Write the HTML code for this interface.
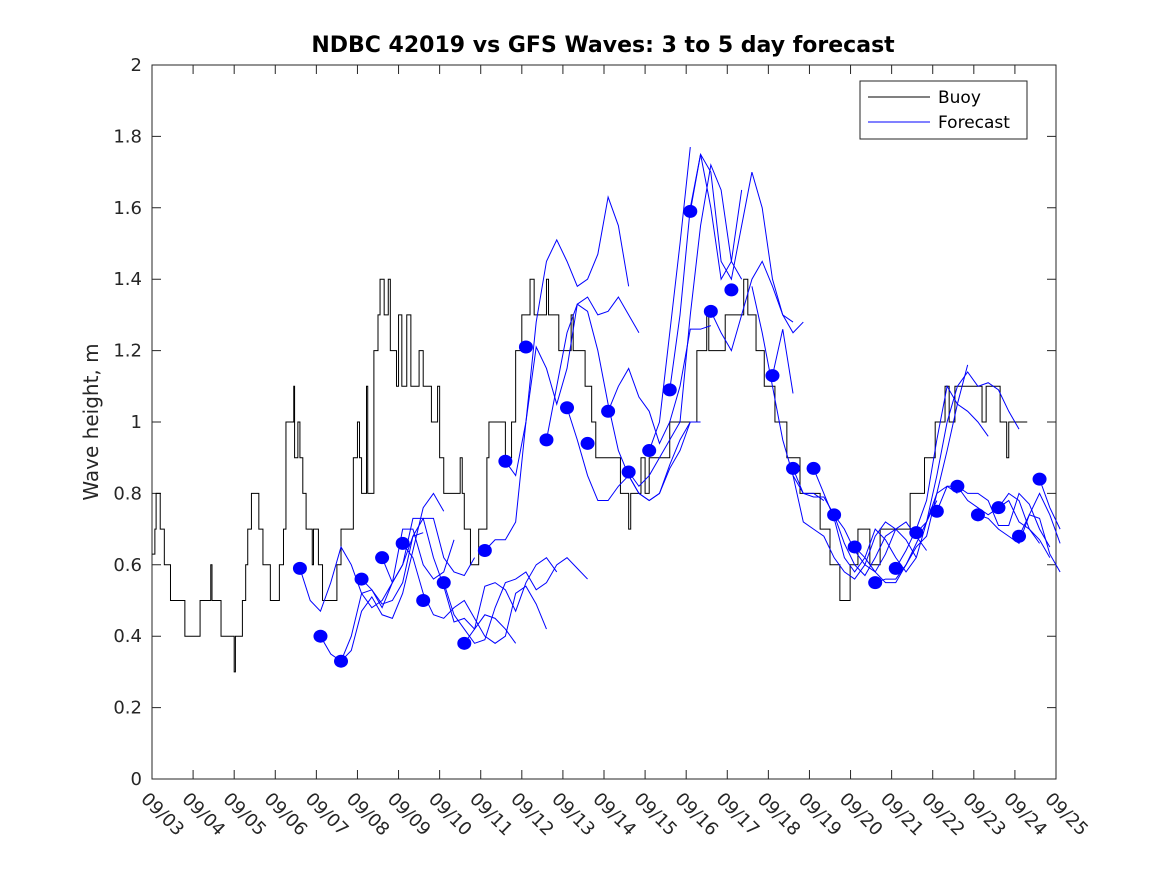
<!DOCTYPE html>
<html><head><meta charset="utf-8"><style>
body{margin:0;background:#fff;}
svg{display:block;font-family:"DejaVu Sans","Liberation Sans",sans-serif;}
</style></head><body>
<svg id="chart" width="1167" height="875" viewBox="0 0 1167 875">
<rect x="0" y="0" width="1167" height="875" fill="#fff"/>
<text x="603" y="52" text-anchor="middle" font-size="22" font-weight="bold" fill="#000">NDBC 42019 vs GFS Waves: 3 to 5 day forecast</text>
<text transform="translate(98,422) rotate(-90)" text-anchor="middle" font-size="20" fill="#262626">Wave height, m</text>
<g id="axes"></g>
<g id="buoy"></g>
<g id="fc"></g>
<g id="dots"></g>
<g>
<rect x="860" y="81" width="167" height="58" fill="#fff" stroke="#262626" stroke-width="1"/>
<line x1="868" y1="97" x2="930" y2="97" stroke="#000" stroke-width="1"/>
<text x="938" y="103" font-size="17" fill="#000">Buoy</text>
<line x1="868" y1="122" x2="930" y2="122" stroke="#00f" stroke-width="1"/>
<text x="938" y="128" font-size="17" fill="#000">Forecast</text>
</g>
</svg>
<script>
const xLabels=["09/03","09/04","09/05","09/06","09/07","09/08","09/09","09/10","09/11","09/12","09/13","09/14","09/15","09/16","09/17","09/18","09/19","09/20","09/21","09/22","09/23","09/24","09/25"];
const yTicks=[0,0.2,0.4,0.6,0.8,1,1.2,1.4,1.6,1.8,2];
const buoyDays=[0,0.07,0.1,0.2,0.3,0.45,0.8,1.17,1.43,1.46,1.68,2.0,2.03,2.2,2.28,2.33,2.42,2.6,2.7,2.88,3.1,3.2,3.26,3.45,3.47,3.55,3.6,3.67,3.75,3.9,3.93,4.05,4.15,4.5,4.6,4.9,5.0,5.05,5.1,5.22,5.25,5.4,5.5,5.55,5.65,5.75,5.8,5.95,6.0,6.08,6.2,6.3,6.5,6.6,6.8,6.95,7.0,7.1,7.5,7.55,7.6,7.75,7.95,8.15,8.2,8.6,8.75,8.85,9.0,9.2,9.3,9.6,9.65,9.9,10.2,10.25,10.54,10.7,10.8,11.4,11.6,11.65,11.9,12.0,12.1,12.6,13.26,13.5,13.55,13.95,14.4,14.5,14.7,14.9,15.16,15.45,15.77,16.26,16.5,16.74,16.99,17.18,17.47,17.72,18.45,18.8,19.06,19.3,19.4,19.54,20.2,20.3,20.64,20.8,20.85,21.3];
const buoyVals=[0.63,0.7,0.8,0.7,0.6,0.5,0.4,0.5,0.6,0.5,0.4,0.3,0.4,0.5,0.6,0.7,0.8,0.7,0.6,0.5,0.6,0.7,1.0,1.1,0.9,1.0,0.9,0.8,0.7,0.6,0.7,0.6,0.5,0.6,0.7,0.9,1.0,0.9,0.8,1.1,0.8,1.2,1.3,1.4,1.3,1.4,1.2,1.1,1.3,1.1,1.3,1.1,1.2,1.1,1.0,1.1,0.9,0.8,0.9,0.8,0.7,0.6,0.7,0.9,1.0,0.9,1.0,1.2,1.3,1.4,1.3,1.4,1.3,1.2,1.3,1.2,1.1,1.0,0.9,0.8,0.7,0.8,0.9,0.8,0.9,1.0,1.2,1.3,1.2,1.3,1.4,1.3,1.2,1.1,1.0,0.9,0.8,0.7,0.6,0.5,0.6,0.7,0.6,0.7,0.8,0.9,1.0,1.1,1.0,1.1,1.0,1.1,1.0,0.9,1.0,1.0];
const dotStart=3.6, dotStep=0.5;
const dotVals=[0.59,0.40,0.33,0.56,0.62,0.66,0.50,0.55,0.38,0.64,0.89,1.21,0.95,1.04,0.94,1.03,0.86,0.92,1.09,1.59,1.31,1.37,null,1.13,0.87,0.87,0.74,0.65,0.55,0.59,0.69,0.75,0.82,0.74,0.76,0.68,0.84];
const fcStep=0.25;
const fcStarts=[3.6,4.1,4.6,5.1,5.6,6.1,7.1,7.6,8.1,8.6,9.6,10.1,11.1,11.6,12.1,12.6,13.1,13.6,14.6,15.1,15.6,15.6,16.1,16.6,17.1,17.6,18.1,18.6,19.1,19.6,20.1,20.6,21.1,21.6];
const fcVals=[
[0.59,0.50,0.47,0.55,0.65,0.60,0.52,0.48,0.50,0.55,0.60,0.68,0.69],
[0.40,0.35,0.33,0.40,0.52,0.53,0.49,0.50,0.55,0.68,0.73,0.73,0.62,0.58,0.57,0.62],
[0.33,0.36,0.47,0.51,0.46,0.45,0.52,0.64,0.76,0.80,0.75],
[0.56,0.53,0.48,0.55,0.70,0.70,0.60,0.56,0.58,0.67],
[0.62,0.55,0.60,0.73,0.73,0.62,0.54,0.44,0.45,0.42,0.46,0.45,0.42,0.38],
[0.66,0.62,0.52,0.46,0.45,0.48,0.50,0.45,0.40,0.38,0.40,0.52,0.54,0.49,0.42],
[0.55,0.46,0.42,0.38,0.39,0.48,0.55,0.56,0.58,0.53,0.55,0.60,0.62,0.59,0.56],
[0.38,0.42,0.54,0.55,0.53,0.47,0.55,0.60,0.62,0.58],
[0.64,0.67,0.67,0.72,1.00,1.28,1.45,1.51,1.45,1.38,1.40,1.47,1.63,1.55,1.38],
[0.89,0.85,1.00,1.21,1.15,1.05,1.15,1.33,1.35,1.30,1.31,1.35,1.30,1.25],
[0.95,1.10,1.25,1.33,1.31,1.20,1.05,0.92,0.85,0.80,0.78,0.80,0.87,0.92,1.00],
[1.04,0.95,0.85,0.78,0.78,0.82,0.85,0.80,0.78,0.80,0.88,0.95,1.00,1.00],
[1.03,1.10,1.15,1.07,1.03,0.94,1.00,1.10,1.26,1.26,1.27],
[0.86,0.82,0.85,0.90,0.95,1.00,1.30,1.55,1.72,1.65,1.45,1.40],
[0.92,1.00,1.25,1.50,1.77],
[1.09,1.30,1.60,1.75,1.60,1.40,1.45,1.65],
[1.59,1.75,1.70,1.45,1.40,1.55,1.70,1.60,1.40,1.30,1.28],
[1.31,1.25,1.20,1.30,1.40,1.45,1.38,1.30,1.25,1.28],
[1.38,1.25,1.10,0.95,0.85,0.80,0.80,0.78],
[1.13,1.26,1.08],
[0.87,0.80,0.79,0.79,0.74,0.66,0.60,0.57,0.62,0.68,0.70,0.67,0.62],
[0.85,0.72,0.70,0.68,0.62,0.58,0.56,0.60,0.68,0.72,0.70],
[0.87,0.80,0.73,0.62,0.58,0.62,0.70,0.67,0.62,0.58,0.62,0.72,0.78],
[0.74,0.70,0.64,0.60,0.58,0.63,0.70,0.72,0.68,0.64],
[0.65,0.62,0.58,0.55,0.55,0.60,0.66,0.72,0.80,0.82,0.80],
[0.55,0.56,0.56,0.60,0.65,0.68,0.80,0.92,1.05,1.16],
[0.59,0.64,0.70,0.78,0.95,1.10,1.05,1.03,1.00,0.96],
[0.69,0.72,0.85,1.00,1.10,1.14,1.10,1.11,1.09,1.03,0.98],
[0.75,0.82,0.82,0.80,0.80,0.78,0.71,0.71,0.80,0.77,0.70,0.65],
[0.82,0.78,0.76,0.74,0.76,0.78,0.72,0.70,0.66],
[0.74,0.73,0.70,0.68,0.66,0.74,0.73,0.63,0.58],
[0.76,0.80,0.78,0.70,0.67,0.62],
[0.68,0.74,0.80,0.74,0.66],
[0.84,0.76,0.70]
];
const X0=152,X1=1056,Y0=779,Y1=65;
const xs=d=>X0+d*(X1-X0)/22;
const ys=v=>Y0-v*(Y0-Y1)/2;
const NS="http://www.w3.org/2000/svg";
function mk(tag,parent,attrs){const e=document.createElementNS(NS,tag);for(const k in attrs)e.setAttribute(k,attrs[k]);parent.appendChild(e);return e;}
const axes=document.getElementById('axes');
const frame=mk('rect',axes,{x:X0,y:Y1,width:X1-X0,height:Y0-Y1,fill:'none',stroke:'#262626','stroke-width':1});


yTicks.forEach(v=>{const y=ys(v);
 const t=mk('path',axes,{d:`M${X0} ${y}h9M${X1} ${y}h-9`,stroke:'#262626','stroke-width':1});
 
 
 const l=mk('text',axes,{x:X0-10,y:y+6,'text-anchor':'end','font-size':18,fill:'#262626'});l.textContent=String(v);
 
 
});
xLabels.forEach((s,i)=>{const x=xs(i);
 const t=mk('path',axes,{d:`M${x} ${Y0}v-9M${x} ${Y1}v9`,stroke:'#262626','stroke-width':1});
 
 
 const l=mk('text',axes,{x:x-12,y:800,'font-size':18,fill:'#262626',transform:`rotate(45 ${x-12} 800)`});l.textContent=s;
 
 
});
let d='';
buoyDays.forEach((t,i)=>{const x=xs(t),y=ys(buoyVals[i]);
 if(i===0)d+=`M${x} ${y}`;else d+=`H${x}V${y}`;});
const bp=mk('path',document.getElementById('buoy'),{d:d,fill:'none',stroke:'#000','stroke-width':1});


const fc=document.getElementById('fc');
fcVals.forEach((arr,j)=>{const pts=arr.map((v,i)=>`${xs(fcStarts[j]+i*fcStep)},${ys(v)}`).join(' ');
 const p=mk('polyline',fc,{points:pts,fill:'none',stroke:'#00f','stroke-width':1});
 
 
});
const dots=document.getElementById('dots');
dotVals.forEach((v,i)=>{if(v===null)return;
 const c=mk('ellipse',dots,{cx:xs(dotStart+i*dotStep),cy:ys(v),rx:7,ry:6.5,fill:'#00f'});
 
 
});
</script>
</body></html>
